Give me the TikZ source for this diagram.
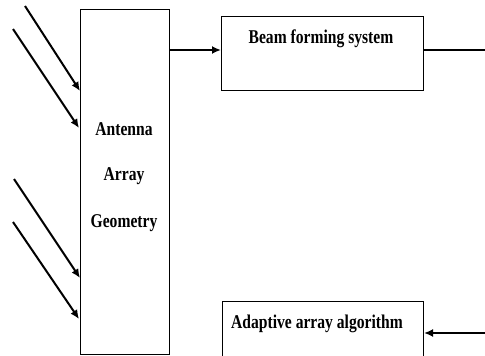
\documentclass[tikz,border=0pt]{standalone}
\usepackage{fontspec}
\setmainfont{Liberation Serif}[FakeStretch=0.8]
\usetikzlibrary{arrows.meta}
\tikzset{
  blk/.style={draw, line width=1.3pt, inner sep=0pt},
  lbl/.style={font=\fontsize{19.5}{19.5}\selectfont\bfseries, inner sep=0pt},
  arr/.style={line width=2pt, -{Latex[length=9pt,width=8pt]}},
  ln/.style={line width=2pt}
}
\begin{document}
\begin{tikzpicture}[x=1pt,y=-1pt]
\useasboundingbox (0,0) rectangle (485,356);
\node[blk, minimum width=89pt, minimum height=345pt, anchor=north west] (ant) at (80,9) {};
\node[lbl] (t1) at (124,129) {Antenna};
\node[lbl] (t2) at (124,176) {Array};
\node[lbl] (t3) at (124,223) {Geometry};
\node[blk, minimum width=202pt, minimum height=74pt, anchor=north west] (beam) at (221,16) {};
\node[lbl] (bt) at (321,39) {Beam forming system};
\node[blk, minimum width=201pt, minimum height=60pt, anchor=north west] (adap) at (222,301) {};
\node[lbl] (at) at (317,324) {Adaptive array algorithm};
\coordinate (o1) at (169,50);
\coordinate (i1) at (221,50);
\draw[arr] (o1) -- (i1);
\coordinate (bo) at (423,50);
\coordinate (be) at (485,50);
\draw[ln] (bo) -- (be);
\coordinate (ae) at (485,333);
\coordinate (ai) at (424,333);
\draw[arr] (ae) -- (ai);
\coordinate (s1) at (25,6);  \coordinate (e1) at (80,91);
\coordinate (s2) at (13,29); \coordinate (e2) at (79,128);
\coordinate (s3) at (14,179);\coordinate (e3) at (80,278);
\coordinate (s4) at (13,222);\coordinate (e4) at (79,319);
\draw[arr] (s1) -- (e1);
\draw[arr] (s2) -- (e2);
\draw[arr] (s3) -- (e3);
\draw[arr] (s4) -- (e4);
\end{tikzpicture}
\end{document}
